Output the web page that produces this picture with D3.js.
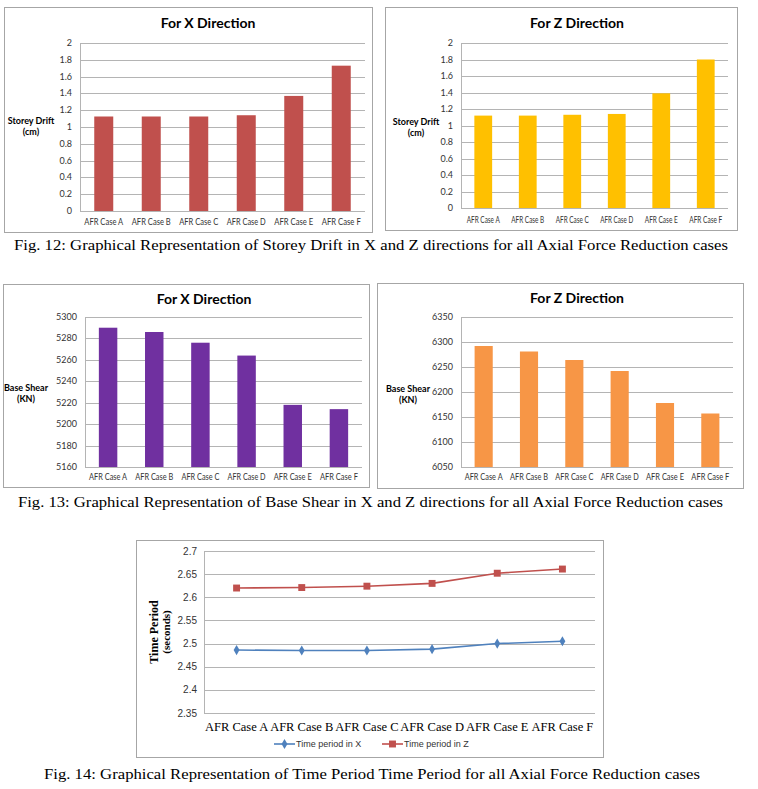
<!DOCTYPE html>
<html>
<head>
<meta charset="utf-8">
<script src="https://cdn.jsdelivr.net/npm/d3@7"></script>
<style>
  body { margin: 0; background: #fff; }
  svg { display: block; }
</style>
</head>
<body>
<svg id="fig" width="758" height="789"></svg>
<script>
// data
const cases = ['AFR Case A', 'AFR Case B', 'AFR Case C', 'AFR Case D', 'AFR Case E', 'AFR Case F']

const driftX = [1.125, 1.125, 1.125, 1.14, 1.37, 1.73]
const driftZ = [1.12, 1.12, 1.13, 1.14, 1.39, 1.80]
const driftTicks = [0, 0.2, 0.4, 0.6, 0.8, 1, 1.2, 1.4, 1.6, 1.8, 2]

const shearX = [5290, 5286, 5276, 5264, 5218, 5214]
const shearXTicks = [5160, 5180, 5200, 5220, 5240, 5260, 5280, 5300]
const shearZ = [6292, 6281, 6264, 6242, 6178, 6157]
const shearZTicks = [6050, 6100, 6150, 6200, 6250, 6300, 6350]

const periodX = [2.486, 2.485, 2.485, 2.488, 2.500, 2.505]
const periodZ = [2.620, 2.621, 2.624, 2.630, 2.652, 2.661]
const periodTicks = [2.35, 2.4, 2.45, 2.5, 2.55, 2.6, 2.65, 2.7]

const svg = d3.select('#fig')

const sans = 'Lato, Carlito, "Liberation Sans", sans-serif'
const serif = '"Liberation Serif", "Times New Roman", serif'
const gridColor = '#b4b4b4'
const boxColor = '#a6a6a6'

// generic excel-like column chart
function barChart(o) {
  let g = svg.append('g')

  g.append('rect')
    .attr('x', o.box[0] + 0.5).attr('y', o.box[1] + 0.5)
    .attr('width', o.box[2] - o.box[0]).attr('height', o.box[3] - o.box[1])
    .attr('fill', '#fff').attr('stroke', boxColor)

  g.append('text')
    .attr('x', o.titleX).attr('y', o.titleY)
    .attr('text-anchor', 'middle')
    .style('font-family', sans).style('font-weight', 'bold').style('font-size', '14px')
    .text(o.title)

  const x = d3.scaleBand().domain(cases).range([o.plot[0], o.plot[2]])
    .paddingInner(0.6).paddingOuter(0.3)
  const y = d3.scaleLinear().domain([o.ticks[0], o.ticks[o.ticks.length - 1]])
    .range([o.plot[3], o.plot[1]])

  // gridlines
  g.selectAll('.grid')
    .data(o.ticks)
    .enter()
    .append('line')
    .attr('x1', o.plot[0]).attr('x2', o.plot[2])
    .attr('y1', d => Math.round(y(d)) + 0.5).attr('y2', d => Math.round(y(d)) + 0.5)
    .attr('stroke', gridColor)

  // left axis line
  g.append('line')
    .attr('x1', o.plot[0] + 0.5).attr('x2', o.plot[0] + 0.5)
    .attr('y1', o.plot[1]).attr('y2', o.plot[3])
    .attr('stroke', gridColor)

  g.selectAll('.ytick')
    .data(o.ticks)
    .enter()
    .append('text')
    .attr('x', o.plot[0] - 8)
    .attr('y', d => y(d) + 3)
    .attr('text-anchor', 'end')
    .style('font-family', sans).style('font-size', '9px').style('fill', '#333')
    .text(d => d)

  g.selectAll('.bar')
    .data(o.values)
    .enter()
    .append('rect')
    .attr('x', (d, i) => x(cases[i]))
    .attr('width', x.bandwidth())
    .attr('y', d => y(d))
    .attr('height', d => y(o.ticks[0]) - y(d))
    .attr('fill', o.color)

  // category labels squeezed like the narrow Calibri of the original
  g.selectAll('.xlab')
    .data(cases)
    .enter()
    .append('text')
    .attr('x', d => x(d) + x.bandwidth() / 2 - o.labelW / 2)
    .attr('y', o.xLabelY)
    .attr('textLength', o.labelW)
    .attr('lengthAdjust', 'spacingAndGlyphs')
    .style('font-family', sans).style('font-size', '8.5px').style('fill', '#333')
    .text(d => d)

  let yl = g.append('text')
    .attr('text-anchor', 'middle')
    .style('font-family', sans).style('font-weight', 'bold').style('font-size', '9px')
  o.yLabel.forEach((t, i) => {
    yl.append('tspan').attr('x', o.yLabelX).attr('y', o.yLabelY + i * 11).text(t)
  })
}

barChart({
  box: [4, 7, 372, 232], plot: [80, 43, 365, 211],
  title: 'For X Direction', titleX: 208, titleY: 28,
  values: driftX, ticks: driftTicks, color: '#C0504D',
  xLabelY: 225, labelW: 39, yLabel: ['Storey Drift', '(cm)'], yLabelX: 31, yLabelY: 124
})

barChart({
  box: [385, 7, 737, 230], plot: [461, 43, 728, 208],
  title: 'For Z Direction', titleX: 577, titleY: 28,
  values: driftZ, ticks: driftTicks, color: '#FFC000',
  xLabelY: 223, labelW: 33, yLabel: ['Storey Drift', '(cm)'], yLabelX: 416, yLabelY: 125
})

barChart({
  box: [3, 284, 369, 487], plot: [85, 317, 362, 467],
  title: 'For X Direction', titleX: 204, titleY: 304,
  values: shearX, ticks: shearXTicks, color: '#7030A0',
  xLabelY: 480, labelW: 38, yLabel: ['Base Shear', '(KN)'], yLabelX: 26, yLabelY: 391
})

barChart({
  box: [377, 283, 743, 488], plot: [461, 317, 733, 467],
  title: 'For Z Direction', titleX: 577, titleY: 303,
  values: shearZ, ticks: shearZTicks, color: '#F79646',
  xLabelY: 480, labelW: 38, yLabel: ['Base Shear', '(KN)'], yLabelX: 408, yLabelY: 392
})

// line chart: time period
const lp = [204, 551, 595, 713]
let lg = svg.append('g')

lg.append('rect')
  .attr('x', 136.5).attr('y', 540.5).attr('width', 467).attr('height', 217)
  .attr('fill', '#fff').attr('stroke', boxColor)

const xP = d3.scalePoint().domain(cases).range([lp[0], lp[2]]).padding(0.5)
const yP = d3.scaleLinear().domain([2.35, 2.7]).range([lp[3], lp[1]])

lg.selectAll('.grid')
  .data(periodTicks)
  .enter()
  .append('line')
  .attr('x1', lp[0]).attr('x2', lp[2])
  .attr('y1', d => Math.round(yP(d)) + 0.5).attr('y2', d => Math.round(yP(d)) + 0.5)
  .attr('stroke', gridColor)

lg.append('line')
  .attr('x1', lp[0] + 0.5).attr('x2', lp[0] + 0.5)
  .attr('y1', lp[1]).attr('y2', lp[3])
  .attr('stroke', gridColor)

lg.selectAll('.ytick')
  .data(periodTicks)
  .enter()
  .append('text')
  .attr('x', lp[0] - 7)
  .attr('y', d => yP(d) + 3.5)
  .attr('text-anchor', 'end')
  .style('font-family', '"Liberation Sans", Arial, sans-serif').style('font-size', '10px').style('fill', '#333')
  .text(d => d)

lg.selectAll('.xlab')
  .data(cases)
  .enter()
  .append('text')
  .attr('x', d => xP(d))
  .attr('y', 731)
  .attr('text-anchor', 'middle')
  .style('font-family', serif).style('font-size', '12.5px')
  .text(d => d)

let ylP = lg.append('text')
  .attr('transform', 'translate(158,632) rotate(-90)')
  .attr('text-anchor', 'middle')
  .style('font-family', serif).style('font-weight', 'bold').style('font-size', '12px')
ylP.append('tspan').attr('x', 0).attr('y', 0).text('Time Period')
ylP.append('tspan').attr('x', 0).attr('y', 12).style('font-size', '11px').text('(seconds)')

const lineGen = d3.line().x((d, i) => xP(cases[i])).y(d => yP(d))
const diamond = d3.symbol().type(d3.symbolDiamond).size(30)
const square = d3.symbol().type(d3.symbolSquare).size(48)

const series = [
  { name: 'Time period in X', values: periodX, color: '#4F81BD', sym: diamond, lx: 274 },
  { name: 'Time period in Z', values: periodZ, color: '#C0504D', sym: square, lx: 382 }
]

series.forEach(s => {
  lg.append('path')
    .attr('d', lineGen(s.values))
    .attr('fill', 'none')
    .attr('stroke', s.color)
    .attr('stroke-width', 1.6)

  lg.selectAll(null)
    .data(s.values)
    .enter()
    .append('path')
    .attr('d', s.sym)
    .attr('transform', (d, i) => 'translate(' + xP(cases[i]) + ',' + yP(d) + ')')
    .attr('fill', s.color)

  // legend
  lg.append('line')
    .attr('x1', s.lx).attr('x2', s.lx + 21)
    .attr('y1', 744).attr('y2', 744)
    .attr('stroke', s.color).attr('stroke-width', 1.6)
  lg.append('path')
    .attr('d', s.sym)
    .attr('transform', 'translate(' + (s.lx + 10.5) + ',744)')
    .attr('fill', s.color)
  lg.append('text')
    .attr('x', s.lx + 22).attr('y', 747)
    .style('font-family', '"Liberation Sans", Arial, sans-serif').style('font-size', '9px').style('fill', '#333')
    .text(s.name)
})

// figure captions
const captions = [
  { text: 'Fig. 12: Graphical Representation of Storey Drift in X and Z directions for all Axial Force Reduction cases', x: 14, y: 250, w: 714 },
  { text: 'Fig. 13: Graphical Representation of Base Shear in X and Z directions for all Axial Force Reduction cases', x: 18, y: 507, w: 705 },
  { text: 'Fig. 14: Graphical Representation of Time Period Time Period for all Axial Force Reduction cases', x: 44, y: 779, w: 656 }
]

svg.selectAll('.caption')
  .data(captions)
  .enter()
  .append('text')
  .attr('class', 'caption')
  .attr('x', d => d.x).attr('y', d => d.y)
  .attr('textLength', d => d.w)
  .attr('lengthAdjust', 'spacingAndGlyphs')
  .style('font-family', serif).style('font-size', '15px')
  .text(d => d.text)
</script>
</body>
</html>
